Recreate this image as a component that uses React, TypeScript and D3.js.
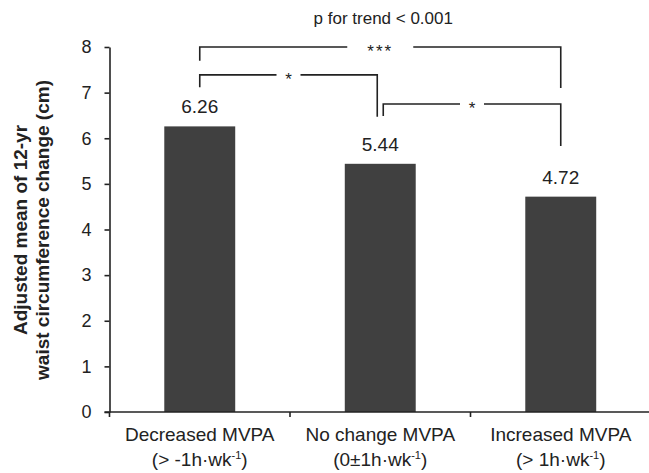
import { useEffect, useRef } from "react";
import * as d3 from "d3";

const categories = ["Decreased MVPA", "No change MVPA", "Increased MVPA"];
const categoryNotes = ["(> -1h·wk", "(0±1h·wk", "(> 1h·wk"];
const means = [6.26, 5.44, 4.72];
const yTicks = [0, 1, 2, 3, 4, 5, 6, 7, 8];

// pairwise comparisons drawn as brackets (levels in cm, on the y scale)
const comparisons = [
  { from: 0, to: 2, level: 8.0, fromEnd: 7.7, toEnd: 7.1, label: "***" },
  { from: 0, to: 1, level: 7.39, fromEnd: 7.12, toEnd: 6.47, label: "*" },
  { from: 1, to: 2, level: 6.75, fromEnd: 6.49, toEnd: 5.83, label: "*" },
];

const trendLabel = "p for trend < 0.001";
const yLabel = ["Adjusted mean of 12-yr", "waist circumference change (cm)"];

const W = 649;
const H = 473;
const FONT = "'Liberation Sans', Arial, sans-serif";
const INK = "#222";

function drawChart(node: SVGSVGElement) {
  const svg = d3.select(node);
  svg.selectAll("*").remove();

  const y = d3.scaleLinear().domain([0, 8]).range([412, 47]);
  const x = d3.scaleBand<string>().domain(categories).range([109.5, 651]);
  const xBar = d3
    .scaleBand<string>()
    .domain(categories)
    .range([109.5, 651])
    .paddingInner(0.607)
    .paddingOuter(0.3035);
  const center = (i: number) => x(categories[i])! + x.bandwidth() / 2;

  // bars
  svg
    .append("g")
    .selectAll("rect")
    .data(means)
    .join("rect")
    .attr("x", (_, i) => xBar(categories[i])!)
    .attr("y", (d) => y(d))
    .attr("width", xBar.bandwidth())
    .attr("height", (d) => y(0) - y(d))
    .attr("fill", "#404040");

  // value labels
  svg
    .append("g")
    .selectAll("text")
    .data(means)
    .join("text")
    .attr("x", (_, i) => center(i))
    .attr("y", (d) => y(d) - 13)
    .attr("text-anchor", "middle")
    .style("font-family", FONT)
    .style("font-size", "19px")
    .style("fill", INK)
    .text((d) => d.toFixed(2));

  // y axis
  const yAxis = svg
    .append("g")
    .attr("transform", `translate(${x.range()[0]},0)`)
    .call(
      d3.axisLeft(y).tickValues(yTicks).tickSize(5).tickSizeOuter(0).tickPadding(13)
    );
  yAxis.attr("font-family", FONT).attr("font-size", 18);
  yAxis.selectAll("path, line").attr("stroke", INK).attr("stroke-width", 1.6);
  yAxis.selectAll("text").attr("fill", INK);

  // x axis with ticks on category boundaries
  const xAxis = svg.append("g");
  xAxis
    .append("line")
    .attr("x1", x.range()[0] - 5)
    .attr("x2", W)
    .attr("y1", y(0))
    .attr("y2", y(0))
    .attr("stroke", INK)
    .attr("stroke-width", 1.6);
  const bounds = categories.map((c) => x(c)!).concat([x.range()[1]]);
  xAxis
    .selectAll("line.tick")
    .data(bounds)
    .join("line")
    .attr("class", "tick")
    .attr("x1", (d) => d)
    .attr("x2", (d) => d)
    .attr("y1", y(0))
    .attr("y2", y(0) + 5)
    .attr("stroke", INK)
    .attr("stroke-width", 1.6);

  const catText = xAxis
    .selectAll("g.cat")
    .data(categories)
    .join("g")
    .attr("class", "cat")
    .style("font-family", FONT)
    .style("font-size", "19px")
    .style("fill", INK);
  catText
    .append("text")
    .attr("x", (_, i) => center(i))
    .attr("y", y(0) + 29)
    .attr("text-anchor", "middle")
    .text((d) => d);
  const note = catText
    .append("text")
    .attr("x", (_, i) => center(i))
    .attr("y", y(0) + 54)
    .attr("text-anchor", "middle");
  note.append("tspan").text((_, i) => categoryNotes[i]);
  note
    .append("tspan")
    .attr("dy", -7)
    .style("font-size", "11px")
    .text("-1");
  note.append("tspan").attr("dy", 7).text(")");

  // y label
  const yl = svg
    .append("text")
    .attr("transform", `translate(27,230) rotate(-90)`)
    .attr("text-anchor", "middle")
    .style("font-family", FONT)
    .style("font-size", "19px")
    .style("font-weight", "bold")
    .style("fill", INK);
  yl.selectAll("tspan")
    .data(yLabel)
    .join("tspan")
    .attr("x", 0)
    .attr("dy", (_, i) => (i === 0 ? 0 : 22))
    .text((d) => d);

  // comparison brackets
  const nudge = (i: number, side: number) => (i === 1 ? side * 3 : 0);
  const br = svg.append("g");
  comparisons.forEach((c) => {
    const x1 = center(c.from) + nudge(c.from, 1);
    const x2 = center(c.to) + nudge(c.to, -1);
    const mid = (x1 + x2) / 2;
    const gap = c.label.length > 1 ? 33 : 12;
    const ly = y(c.level);
    const path = d3.path();
    path.moveTo(x1, y(c.fromEnd));
    path.lineTo(x1, ly);
    path.lineTo(mid - gap, ly);
    path.moveTo(mid + gap, ly);
    path.lineTo(x2, ly);
    path.lineTo(x2, y(c.toEnd));
    br.append("path")
      .attr("d", path.toString())
      .attr("fill", "none")
      .attr("stroke", INK)
      .attr("stroke-width", 1.6);
    br.append("text")
      .attr("x", mid)
      .attr("y", ly + 10)
      .attr("text-anchor", "middle")
      .style("font-family", FONT)
      .style("font-size", "17px")
      .style("letter-spacing", c.label.length > 1 ? "2px" : "0px")
      .style("fill", INK)
      .text(c.label);
  });

  svg
    .append("text")
    .attr("x", (center(0) + center(2)) / 2 + 3)
    .attr("y", 24)
    .attr("text-anchor", "middle")
    .style("font-family", FONT)
    .style("font-size", "17px")
    .style("fill", INK)
    .text(trendLabel);
}

export default function App() {
  const ref = useRef<SVGSVGElement>(null);
  useEffect(() => {
    if (ref.current) drawChart(ref.current);
  }, []);
  return (
    <div style={{ position: "absolute", left: 0, top: 0, background: "#fff" }}>
      <svg ref={ref} width={W} height={H} style={{ display: "block" }} />
    </div>
  );
}
